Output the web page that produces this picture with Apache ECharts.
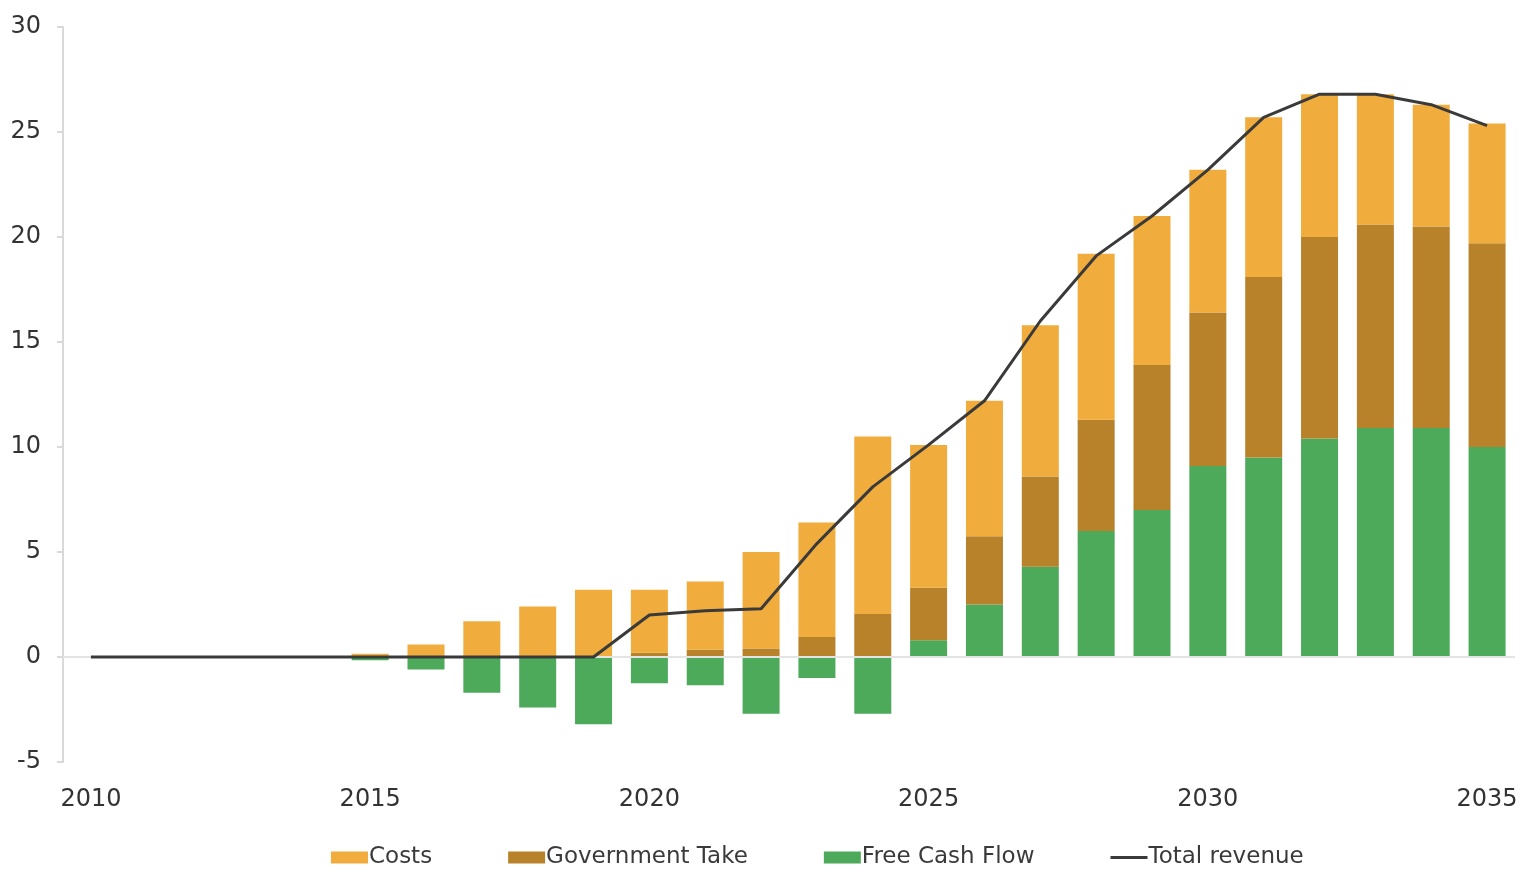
<!DOCTYPE html>
<html>
<head>
<meta charset="utf-8">
<script src="https://cdn.jsdelivr.net/npm/echarts@6/dist/echarts.min.js"></script>
<style>
  html, body { margin: 0; padding: 0; background: #fff; }
  #chart { width: 1536px; height: 885px; }
</style>
</head>
<body>
<div id="chart"></div>
<script>
// years on the x axis
var years = ['2010', '2011', '2012', '2013', '2014', '2015', '2016', '2017', '2018', '2019',
  '2020', '2021', '2022', '2023', '2024', '2025', '2026', '2027', '2028', '2029',
  '2030', '2031', '2032', '2033', '2034', '2035'];

// stacked bars (free cash flow at the bottom, costs on top)
var freeCashFlow = ['-', '-', '-', '-', '-', -0.15, -0.6, -1.7, -2.4, -3.2,
  -1.25, -1.35, -2.7, -1.0, -2.7, 0.8, 2.5, 4.3, 6.0, 7.0,
  9.1, 9.5, 10.4, 10.9, 10.9, 10.0];
var governmentTake = ['-', '-', '-', '-', '-', '-', '-', '-', '-', '-',
  0.2, 0.35, 0.4, 0.95, 2.05, 2.5, 3.25, 4.3, 5.3, 6.9,
  7.3, 8.6, 9.6, 9.7, 9.6, 9.7];
var costs = ['-', '-', '-', '-', '-', 0.15, 0.6, 1.7, 2.4, 3.2,
  3.0, 3.25, 4.6, 5.45, 8.45, 6.8, 6.45, 7.2, 7.9, 7.1,
  6.8, 7.6, 6.8, 6.2, 5.8, 5.7];

// line
var totalRevenue = [0, 0, 0, 0, 0, 0, 0, 0, 0, 0,
  2.0, 2.2, 2.3, 5.4, 8.1, 10.1, 12.2, 16.0, 19.1, 21.0,
  23.2, 25.7, 26.8, 26.8, 26.3, 25.3];

var chart = echarts.init(document.getElementById('chart'));

var labelFont = 'DejaVu Sans';

var option = {
  animation: false,
  legend: {
    bottom: 11,
    left: 326,
    itemWidth: 37,
    itemHeight: 12,
    itemGap: 76,
    textStyle: { fontFamily: labelFont, fontSize: 23, color: '#3A3A3A', padding: [0, 0, 0, -4] },
    data: [
      { name: 'Costs', icon: 'rect' },
      { name: 'Government Take', icon: 'rect' },
      { name: 'Free Cash Flow', icon: 'rect' },
      { name: 'Total revenue', icon: 'path://M0,0 H40 V3 H0 Z' }
    ]
  },
  grid: {
    left: 63,
    right: 21,
    top: 27,
    bottom: 123
  },
  xAxis: {
    type: 'category',
    data: years,
    boundaryGap: true,
    axisLine: { show: false, onZero: false },
    axisTick: { show: false },
    axisLabel: {
      interval: 4,
      margin: 26,
      fontFamily: labelFont,
      fontSize: 24,
      color: '#333333'
    }
  },
  yAxis: {
    type: 'value',
    min: -5,
    max: 30,
    interval: 5,
    axisLine: { show: true, lineStyle: { color: '#D9D9D9', width: 2 } },
    axisTick: { show: true, length: 6, lineStyle: { color: '#D9D9D9', width: 2 } },
    splitLine: { show: false },
    axisLabel: {
      margin: 22,
      fontFamily: labelFont,
      fontSize: 24,
      color: '#333333'
    }
  },
  series: [
    {
      name: 'Free Cash Flow',
      type: 'bar',
      stack: 'total',
      barWidth: 37,
      data: freeCashFlow,
      itemStyle: { color: '#4DAA5A' },
      markLine: {
        silent: true,
        symbol: 'none',
        label: { show: false },
        lineStyle: { color: '#E4E4E4', width: 2, type: 'solid' },
        data: [{ yAxis: 0 }]
      }
    },
    {
      name: 'Government Take',
      type: 'bar',
      stack: 'total',
      barWidth: 37,
      data: governmentTake,
      itemStyle: { color: '#B8822B' }
    },
    {
      name: 'Costs',
      type: 'bar',
      stack: 'total',
      barWidth: 37,
      data: costs,
      itemStyle: { color: '#F0AC3C' }
    },
    {
      name: 'Total revenue',
      type: 'line',
      data: totalRevenue,
      symbol: 'none',
      smooth: false,
      z: 5,
      lineStyle: { color: '#3A3A3A', width: 3 },
      itemStyle: { color: '#3A3A3A' }
    }
  ]
};

chart.setOption(option);
</script>
</body>
</html>
